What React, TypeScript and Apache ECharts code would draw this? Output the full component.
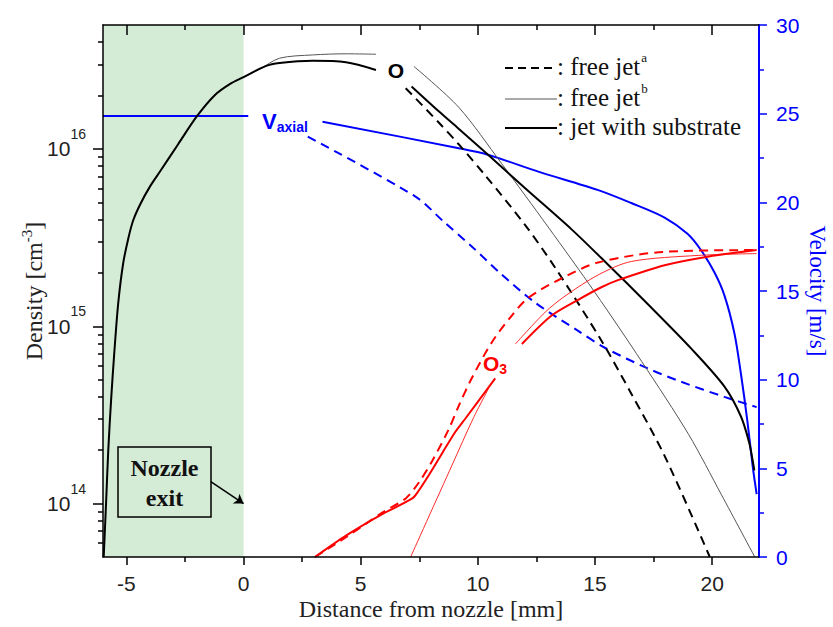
import React, { useEffect, useRef } from "react";
import * as echarts from "echarts";

type Pt = [number, number | null];

// Tick values
const xMajorTicks = [-5, 0, 5, 10, 15, 20];
const xMinorTicks = [-2.5, 2.5, 7.5, 12.5, 17.5];
const densityMajorTicks = [1e14, 1e15, 1e16];
const densityMinorTicks = [
  6e13, 7e13, 8e13, 9e13,
  2e14, 3e14, 4e14, 5e14, 6e14, 7e14, 8e14, 9e14,
  2e15, 3e15, 4e15, 5e15, 6e15, 7e15, 8e15, 9e15,
  2e16, 3e16, 4e16,
];

// O density (cm^-3); null = gap left for the "O" label
const oSubstrate: Pt[] = [
  [-5.97, 5.0e13], [-5.87, 1.0e14], [-5.775, 2.0e14], [-5.65, 3.92e14], [-5.52, 7.03e14],
  [-5.35, 1.35e15], [-5.14, 2.26e15], [-4.92, 3.13e15], [-4.71, 3.96e15], [-4.41, 4.88e15],
  [-3.985, 6.17e15], [-3.56, 7.48e15], [-2.8, 1.06e16], [-1.99, 1.53e16], [-1.23, 2.01e16],
  [-0.59, 2.32e16], [0.0, 2.54e16], [0.94, 2.93e16], [1.54, 3.05e16], [2.95, 3.14e16],
  [4.37, 3.08e16], [5.65, 2.79e16],
  [6.4, null],
  [7.17, 2.25e16], [8.33, 1.63e16], [9.18, 1.3e16], [10.46, 9.21e15], [12.02, 6.0e15],
  [14.0, 3.52e15], [15.42, 2.32e15], [17.26, 1.33e15], [19.1, 7.5e14], [20.52, 4.58e14],
  [21.23, 3.1e14], [21.58, 2.21e14], [21.73, 1.75e14], [21.8, 1.54e14],
];
const oFreeJetA: Pt[] = [
  [6.92, 2.2e16], [8.33, 1.41e16], [9.19, 1.06e16], [10.32, 7.08e15], [12.02, 3.72e15],
  [13.3, 2.14e15], [15.27, 8.32e14], [16.55, 4.17e14], [17.97, 1.86e14], [19.9, 5.0e13],
];
const oFreeJetB: Pt[] = [
  [0.0, 2.54e16], [0.69, 2.82e16], [1.54, 3.25e16], [2.95, 3.39e16], [4.37, 3.44e16],
  [5.65, 3.42e16],
  [6.4, null],
  [7.27, 2.92e16], [9.18, 1.72e16], [11.0, 8.32e15], [13.0, 3.63e15], [15.0, 1.55e15],
  [17.0, 6.31e14], [19.0, 2.45e14], [20.4, 1.12e14], [21.82, 5.0e13],
];

// O3 density (cm^-3)
const o3Substrate: Pt[] = [
  [3.05, 5.0e13], [4.37, 6.6e13], [5.9, 8.7e13], [7.2, 1.07e14], [7.45, 1.17e14],
  [7.91, 1.45e14], [9.04, 2.54e14], [9.47, 3.02e14], [10.74, 5.08e14],
  [11.3, null],
  [11.88, 7.94e14], [13.15, 1.15e15], [14.28, 1.41e15], [15.27, 1.66e15], [15.98, 1.82e15],
  [17.97, 2.21e15], [19.81, 2.47e15], [21.9, 2.69e15],
];
const o3FreeJetA: Pt[] = [
  [3.05, 5.0e13], [4.37, 6.46e13], [5.92, 8.9e13], [6.92, 1.07e14], [7.49, 1.32e14],
  [8.05, 1.74e14], [8.76, 2.63e14], [9.18, 3.55e14], [9.75, 5.13e14], [10.6, 8.13e14],
  [11.45, 1.15e15], [12.16, 1.45e15], [13.57, 1.86e15], [15.13, 2.29e15], [17.97, 2.63e15],
  [21.9, 2.69e15],
];
const o3FreeJetB: Pt[] = [
  [7.13, 5.0e13], [8.9, 1.65e14], [9.8, 3.02e14], [10.46, 4.47e14],
  [11.0, null],
  [11.6, 7.94e14], [12.87, 1.2e15], [13.72, 1.48e15], [15.14, 1.95e15], [16.55, 2.32e15],
  [19.4, 2.51e15], [21.9, 2.57e15],
];

// Axial velocity (m/s)
const vSubstrate: Pt[] = [
  [-6.0, 24.87], [0.2, 24.87],
  [1.5, null],
  [3.37, 24.55], [9.19, 23.05], [10.46, 22.67], [12.58, 21.73], [15.14, 20.69],
  [16.55, 19.96], [17.97, 19.14], [18.96, 18.21], [19.52, 17.31], [20.09, 16.07],
  [20.52, 14.77], [20.95, 12.62], [21.23, 10.32], [21.5, 7.71], [21.73, 5.12], [21.9, 3.54],
];
const vFreeJetA: Pt[] = [
  [2.74, 23.7], [7.34, 20.32], [8.55, 18.9], [9.75, 17.5], [10.96, 16.0], [12.44, 14.35],
  [14.28, 12.75], [15.42, 11.8], [17.26, 10.63], [18.68, 9.88], [20.52, 9.03], [21.9, 8.45],
];

// Nozzle region and annotation arrow (data coordinates)
const nozzleRegion: [number, number] = [-6, 0];
const nozzleArrowFrom: [number, number] = [-1.4, 1.33e14];
const nozzleArrowTo: [number, number] = [0, 1e14];

const BLUE = "#0000ff";
const RED = "#ff0000";
const SANS = "Liberation Sans, Arial, sans-serif";
const SERIF = "Liberation Serif, Times New Roman, serif";
const LABEL_COLOR = "#222";

const toData = (pts: Pt[]) => pts.map(([x, y]) => [x, y === null ? "-" : y]);

function xAxisDef(position: string, ticks: number[], length: number, inside: boolean, showLine: boolean, showLabel: boolean, extra: any = {}) {
  return {
    type: "value",
    min: -6,
    max: 22,
    position,
    z: 5,
    splitLine: { show: false },
    axisLine: { show: showLine, onZero: false, lineStyle: { color: "#000", width: 1.5 } },
    axisTick: { show: true, inside, length, customValues: ticks, lineStyle: { color: "#000", width: 1.5 } },
    axisLabel: showLabel
      ? { show: true, customValues: ticks, fontSize: 21, fontFamily: SANS, color: LABEL_COLOR, margin: 16 }
      : { show: false },
    ...extra,
  };
}

function line(name: string, data: Pt[], color: string, width: number, dashed: boolean, yAxisIndex: number, extra: any = {}) {
  return {
    name,
    type: "line",
    xAxisIndex: 0,
    yAxisIndex,
    data: toData(data),
    showSymbol: false,
    symbol: "none",
    smooth: 0.3,
    connectNulls: false,
    silent: true,
    lineStyle: { color, width, type: dashed ? [9, 6] : "solid" },
    z: 3,
    ...extra,
  };
}

export default function App() {
  const ref = useRef<HTMLDivElement>(null);

  useEffect(() => {
    if (!ref.current) return;
    const chart = echarts.init(ref.current, undefined, { renderer: "svg" });

    const legendRows = [
      { y: 68, dash: true, color: "#000", width: 2, text: "{t|: free jet}{s|a}" },
      { y: 99, dash: false, color: "#555", width: 1, text: "{t|: free jet}{s|b}" },
      { y: 128, dash: false, color: "#000", width: 2, text: "{t|: jet with substrate}" },
    ];
    const legendGraphics: any[] = [];
    legendRows.forEach((r) => {
      legendGraphics.push({
        type: "line",
        shape: { x1: 505, y1: r.y, x2: 557, y2: r.y },
        style: { stroke: r.color, lineWidth: r.width, lineDash: r.dash ? [8, 5] : null },
        z: 10,
      });
      legendGraphics.push({
        type: "text",
        x: 557,
        y: r.y - 2,
        style: {
          text: r.text,
          align: "left",
          verticalAlign: "middle",
          rich: {
            t: { fontFamily: SERIF, fontSize: 25, fill: "#111", color: "#111" },
            s: { fontFamily: SERIF, fontSize: 13, fill: "#111", color: "#111", padding: [0, 0, 18, 1] },
          },
        },
        z: 10,
      });
    });

    const option: any = {
      animation: false,
      backgroundColor: "#ffffff",
      grid: { left: 103, right: 74, top: 25, bottom: 70, containLabel: false, outerBoundsMode: "none" },
      xAxis: [
        xAxisDef("bottom", xMajorTicks, 8, false, true, true, {
          name: "Distance from nozzle [mm]",
          nameLocation: "middle",
          nameGap: 40,
          nameMoveOverlap: false,
          nameTextStyle: { fontFamily: SERIF, fontSize: 24, color: LABEL_COLOR },
        }),
        xAxisDef("bottom", xMinorTicks, 5, false, false, false),
        xAxisDef("top", xMajorTicks, 10, true, true, false),
        xAxisDef("top", xMinorTicks, 5, true, false, false),
      ],
      yAxis: [
        {
          type: "log",
          logBase: 10,
          min: 5e13,
          max: 5e16,
          position: "left",
          z: 5,
          splitLine: { show: false },
          axisLine: { show: true, onZero: false, lineStyle: { color: "#000", width: 1.5 } },
          axisTick: { show: true, length: 10, customValues: densityMajorTicks, lineStyle: { color: "#000", width: 1.5 } },
          axisLabel: {
            show: true,
            customValues: densityMajorTicks,
            margin: 17,
            formatter: (v: number) => `{b|10}{s|${Math.round(Math.log10(v))}}`,
            rich: {
              b: { fontFamily: SANS, fontSize: 21, color: LABEL_COLOR, lineHeight: 22 },
              s: { fontFamily: SANS, fontSize: 14, color: LABEL_COLOR, lineHeight: 14, padding: [0, 0, 30, 0] },
            },
          },
          name: "{n|Density [cm}{s|-3}{n|]}",
          nameLocation: "middle",
          nameGap: 55,
          nameMoveOverlap: false,
          nameTextStyle: {
            rich: {
              n: { fontFamily: SERIF, fontSize: 24, color: LABEL_COLOR },
              s: { fontFamily: SERIF, fontSize: 15, color: LABEL_COLOR, padding: [0, 0, 14, 0] },
            },
          },
        },
        {
          type: "log",
          logBase: 10,
          min: 5e13,
          max: 5e16,
          position: "left",
          z: 5,
          splitLine: { show: false },
          axisLine: { show: false, onZero: false },
          axisTick: { show: true, length: 5, customValues: densityMinorTicks, lineStyle: { color: "#000", width: 1.5 } },
          axisLabel: { show: false },
        },
        {
          type: "value",
          min: 0,
          max: 30,
          interval: 5,
          position: "right",
          z: 5,
          splitLine: { show: false },
          axisLine: { show: true, onZero: false, lineStyle: { color: BLUE, width: 2 } },
          axisTick: { show: true, length: 8, lineStyle: { color: BLUE, width: 1.5 } },
          minorTick: { show: true, splitNumber: 2, length: 5, lineStyle: { color: BLUE, width: 1.5 } },
          axisLabel: { show: true, fontSize: 21, fontFamily: SANS, color: BLUE, margin: 17 },
          name: "Velocity [m/s]",
          nameLocation: "middle",
          nameRotate: -90,
          nameGap: 47,
          nameMoveOverlap: false,
          nameTextStyle: { fontFamily: SERIF, fontSize: 23, color: BLUE },
        },
      ],
      series: [
        line("V jet with substrate", vSubstrate, BLUE, 2, false, 2, {
          markArea: {
            silent: true,
            itemStyle: { color: "#d4ebd6" },
            data: [[{ xAxis: nozzleRegion[0] }, { xAxis: nozzleRegion[1] }]],
          },
        }),
        line("V free jet a", vFreeJetA, BLUE, 2, true, 2),
        line("O free jet a", oFreeJetA, "#000", 2, true, 0),
        line("O free jet b", oFreeJetB, "#555", 1, false, 0),
        line("O jet with substrate", oSubstrate, "#000", 2, false, 0, {
          markLine: {
            silent: true,
            symbol: ["none", "arrow"],
            symbolSize: 9,
            lineStyle: { color: "#000", width: 1.5, type: "solid" },
            label: { show: false },
            data: [[{ coord: nozzleArrowFrom }, { coord: nozzleArrowTo }]],
          },
        }),
        line("O3 free jet a", o3FreeJetA, RED, 2, true, 0),
        line("O3 free jet b", o3FreeJetB, "#ff2a2a", 1, false, 0),
        line("O3 jet with substrate", o3Substrate, RED, 2, false, 0),
      ],
      graphic: [
        ...legendGraphics,
        {
          type: "text",
          x: 396,
          y: 70,
          style: { text: "O", font: `bold 21px ${SANS}`, fill: "#000", align: "center", verticalAlign: "middle" },
          z: 10,
        },
        {
          type: "text",
          x: 483,
          y: 363,
          style: {
            text: "{o|O}{s|3}",
            align: "left",
            verticalAlign: "middle",
            rich: {
              o: { fontFamily: SANS, fontWeight: "bold", fontSize: 21, fill: RED, color: RED },
              s: { fontFamily: SANS, fontWeight: "bold", fontSize: 14, fill: RED, color: RED, padding: [12, 0, 0, 0] },
            },
          },
          z: 10,
        },
        {
          type: "text",
          x: 262,
          y: 121,
          style: {
            text: "{v|V}{s|axial}",
            align: "left",
            verticalAlign: "middle",
            rich: {
              v: { fontFamily: SANS, fontWeight: "bold", fontSize: 22, fill: BLUE, color: BLUE },
              s: { fontFamily: SANS, fontWeight: "bold", fontSize: 14, fill: BLUE, color: BLUE, padding: [12, 0, 0, 0] },
            },
          },
          z: 10,
        },
        {
          type: "rect",
          shape: { x: 118, y: 447, width: 93, height: 70 },
          style: { fill: "none", stroke: "#000", lineWidth: 1.5 },
          z: 10,
        },
        {
          type: "text",
          x: 164.5,
          y: 483,
          style: {
            text: "Nozzle\nexit",
            font: `bold 24px ${SERIF}`,
            lineHeight: 30,
            fill: "#111",
            align: "center",
            verticalAlign: "middle",
          },
          z: 10,
        },
      ],
    };

    chart.setOption(option);
    return () => chart.dispose();
  }, []);

  return (
    <div
      ref={ref}
      style={{ position: "fixed", left: 0, top: 0, width: 833, height: 627, background: "#fff" }}
    />
  );
}
